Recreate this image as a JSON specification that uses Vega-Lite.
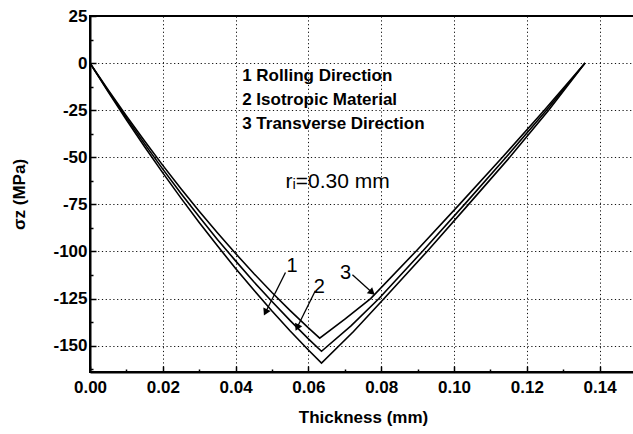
{
  "$schema": "https://vega.github.io/schema/vega-lite/v6.json",
  "autosize": {"type": "none"},
  "padding": {"left": 90, "top": 16, "right": 0, "bottom": 62},
  "width": 546,
  "height": 356,
  "background": "white",
  "view": {"stroke": "black", "strokeWidth": 2},
  "config": {
    "font": "Liberation Sans",
    "axis": {
      "domainColor": "black", "domainWidth": 2,
      "tickColor": "black", "tickWidth": 1.5,
      "labelFont": "Liberation Sans", "labelFontWeight": "bold", "labelFontSize": 17, "labelColor": "black",
      "titleFont": "Liberation Sans", "titleFontWeight": "bold", "titleFontSize": 17, "titleColor": "black",
      "gridColor": "#111111", "gridDash": [1.2, 2.6], "gridWidth": 1
    }
  },
  "datasets": {
    "curves": [
      {"series": "1", "x": 0, "y": 0},
      {"series": "1", "x": 0.005, "y": -15.3},
      {"series": "1", "x": 0.01, "y": -30.1},
      {"series": "1", "x": 0.015, "y": -44.4},
      {"series": "1", "x": 0.02, "y": -58.3},
      {"series": "1", "x": 0.025, "y": -71.7},
      {"series": "1", "x": 0.03, "y": -84.6},
      {"series": "1", "x": 0.035, "y": -97.0},
      {"series": "1", "x": 0.04, "y": -109.0},
      {"series": "1", "x": 0.045, "y": -120.5},
      {"series": "1", "x": 0.05, "y": -131.6},
      {"series": "1", "x": 0.055, "y": -142.2},
      {"series": "1", "x": 0.06, "y": -152.3},
      {"series": "1", "x": 0.0636, "y": -159.3},
      {"series": "1", "x": 0.0724, "y": -142.5},
      {"series": "1", "x": 0.0808, "y": -125},
      {"series": "1", "x": 0.0926, "y": -100},
      {"series": "1", "x": 0.104, "y": -75},
      {"series": "1", "x": 0.1153, "y": -50},
      {"series": "1", "x": 0.126, "y": -25},
      {"series": "1", "x": 0.136, "y": 0},
      {"series": "2", "x": 0, "y": 0},
      {"series": "2", "x": 0.005, "y": -14.8},
      {"series": "2", "x": 0.01, "y": -29.1},
      {"series": "2", "x": 0.015, "y": -42.9},
      {"series": "2", "x": 0.02, "y": -56.3},
      {"series": "2", "x": 0.025, "y": -69.2},
      {"series": "2", "x": 0.03, "y": -81.6},
      {"series": "2", "x": 0.035, "y": -93.6},
      {"series": "2", "x": 0.04, "y": -105.0},
      {"series": "2", "x": 0.045, "y": -116.1},
      {"series": "2", "x": 0.05, "y": -126.6},
      {"series": "2", "x": 0.055, "y": -136.7},
      {"series": "2", "x": 0.06, "y": -146.4},
      {"series": "2", "x": 0.0636, "y": -153.0},
      {"series": "2", "x": 0.0717, "y": -139.5},
      {"series": "2", "x": 0.0794, "y": -125},
      {"series": "2", "x": 0.0913, "y": -100},
      {"series": "2", "x": 0.1029, "y": -75},
      {"series": "2", "x": 0.1143, "y": -50},
      {"series": "2", "x": 0.1254, "y": -25},
      {"series": "2", "x": 0.136, "y": 0},
      {"series": "3", "x": 0, "y": 0},
      {"series": "3", "x": 0.005, "y": -14.3},
      {"series": "3", "x": 0.01, "y": -28.1},
      {"series": "3", "x": 0.015, "y": -41.4},
      {"series": "3", "x": 0.02, "y": -54.3},
      {"series": "3", "x": 0.025, "y": -66.7},
      {"series": "3", "x": 0.03, "y": -78.6},
      {"series": "3", "x": 0.035, "y": -90.1},
      {"series": "3", "x": 0.04, "y": -101.1},
      {"series": "3", "x": 0.045, "y": -111.7},
      {"series": "3", "x": 0.05, "y": -121.8},
      {"series": "3", "x": 0.055, "y": -131.4},
      {"series": "3", "x": 0.06, "y": -140.6},
      {"series": "3", "x": 0.0631, "y": -146.0},
      {"series": "3", "x": 0.0702, "y": -135.7},
      {"series": "3", "x": 0.0771, "y": -125},
      {"series": "3", "x": 0.0895, "y": -100},
      {"series": "3", "x": 0.1015, "y": -75},
      {"series": "3", "x": 0.1133, "y": -50},
      {"series": "3", "x": 0.1248, "y": -25},
      {"series": "3", "x": 0.136, "y": 0}
    ],
    "legendText": [
      {"text": "1 Rolling Direction", "x": 0.0418, "y": -6.6},
      {"text": "2 Isotropic Material", "x": 0.0418, "y": -19.6},
      {"text": "3 Transverse Direction", "x": 0.0418, "y": -32.6}
    ],
    "note": [
      {"text": "rᵢ=0.30 mm", "x": 0.0537, "y": -63.3}
    ],
    "numbers": [
      {"text": "1", "x": 0.0555, "y": -107.6},
      {"text": "2", "x": 0.0630, "y": -118.8},
      {"text": "3", "x": 0.0702, "y": -111.2}
    ],
    "arrows": [
      {"id": "1", "x": 0.0537, "y": -111.2, "x2": 0.0482, "y2": -132.4},
      {"id": "2", "x": 0.0619, "y": -120.9, "x2": 0.0569, "y2": -140.4},
      {"id": "3", "x": 0.0721, "y": -112.4, "x2": 0.0775, "y2": -121.8}
    ]
  },
  "encoding": {
    "x": {
      "field": "x", "type": "quantitative",
      "scale": {"domain": [0, 0.15], "nice": false, "zero": false},
      "axis": {
        "title": "Thickness (mm)",
        "values": [0, 0.01, 0.02, 0.03, 0.04, 0.05, 0.06, 0.07, 0.08, 0.09, 0.1, 0.11, 0.12, 0.13, 0.14, 0.15],
        "labelExpr": "round(datum.value*100) % 2 == 0 ? format(datum.value, '.2f') : ''",
        "tickSize": {"condition": {"test": "round(datum.value*100) % 2 == 0", "value": -6}, "value": -3},
        "gridOpacity": {"condition": {"test": "round(datum.value*100) % 2 == 0 && datum.value > 0", "value": 1}, "value": 0},
        "labelPadding": 13,
        "titlePadding": 11,
        "labelFlush": false,
        "labelOverlap": false
      }
    },
    "y": {
      "field": "y", "type": "quantitative",
      "scale": {"domain": [-164, 25], "nice": false, "zero": false},
      "axis": {
        "title": "σz (MPa)",
        "values": [-162.5, -150, -137.5, -125, -112.5, -100, -87.5, -75, -62.5, -50, -37.5, -25, -12.5, 0, 12.5, 25],
        "labelExpr": "datum.value % 25 == 0 ? '' + datum.value : ''",
        "tickSize": {"condition": {"test": "datum.value % 25 == 0", "value": -6}, "value": -3},
        "gridOpacity": {"condition": {"test": "datum.value % 25 == 0 && datum.value < 25", "value": 1}, "value": 0},
        "labelPadding": 9,
        "titlePadding": 24,
        "labelFlush": false,
        "labelOverlap": false
      }
    }
  },
  "layer": [
    {
      "data": {"name": "curves"},
      "mark": {"type": "line", "color": "black", "strokeWidth": 1.6},
      "encoding": {"detail": {"field": "series"}}
    },
    {
      "data": {"name": "legendText"},
      "mark": {"type": "text", "align": "left", "baseline": "middle", "fontWeight": "bold", "fontSize": 17, "color": "black"},
      "encoding": {"text": {"field": "text"}}
    },
    {
      "data": {"name": "note"},
      "mark": {"type": "text", "align": "left", "baseline": "middle", "fontSize": 21, "color": "black"},
      "encoding": {"text": {"field": "text"}}
    },
    {
      "data": {"name": "numbers"},
      "mark": {"type": "text", "align": "center", "baseline": "middle", "fontSize": 20, "color": "black"},
      "encoding": {"text": {"field": "text"}}
    },
    {
      "data": {"name": "arrows"},
      "mark": {"type": "rule", "color": "black", "strokeWidth": 1.3},
      "encoding": {"x2": {"field": "x2"}, "y2": {"field": "y2"}}
    },
    {
      "data": {"name": "arrows"},
      "transform": [{"filter": "datum.id == '1' || datum.id == '2'"}],
      "mark": {"type": "point", "shape": "triangle-up", "filled": true, "color": "black", "size": 65, "angle": 206, "opacity": 1},
      "encoding": {"x": {"field": "x2", "type": "quantitative"}, "y": {"field": "y2", "type": "quantitative"}}
    },
    {
      "data": {"name": "arrows"},
      "transform": [{"filter": "datum.id == '3'"}],
      "mark": {"type": "point", "shape": "triangle-up", "filled": true, "color": "black", "size": 65, "angle": 132, "opacity": 1},
      "encoding": {"x": {"field": "x2", "type": "quantitative"}, "y": {"field": "y2", "type": "quantitative"}}
    }
  ]
}
